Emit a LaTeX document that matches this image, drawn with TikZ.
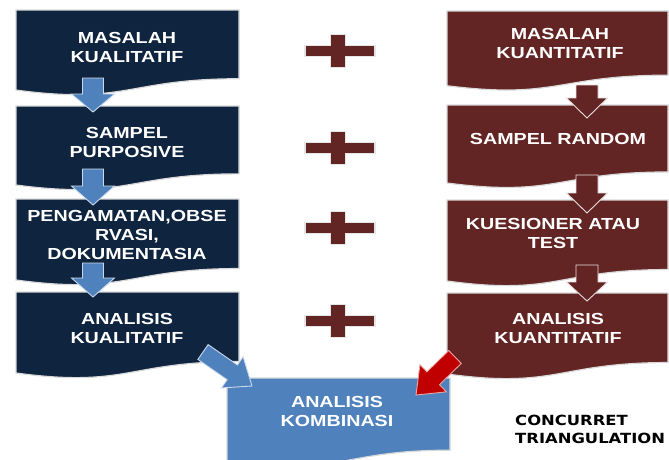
\documentclass[tikz,border=0pt]{standalone}
\usepackage{fontspec}
\setmainfont{Liberation Sans}
\newfontfamily\notefont{DejaVu Sans}
\usetikzlibrary{calc}
\definecolor{navy}{HTML}{0F243E}
\definecolor{maroon}{HTML}{632523}
\definecolor{lblue}{HTML}{4F81BD}
\definecolor{ared}{HTML}{C00000}

\newcommand\docbox[5]{%
 \pgfmathsetmacro\dya{#3+0.802*#4}%
 \pgfmathsetmacro\dyb{#3+1.108*#4}%
 \pgfmathsetmacro\dyc{#3+0.934*#4}%
 \pgfmathsetmacro\dxm{(#1+#2)/2}%
 \filldraw[boxstyle, fill=#5] (#1,#3) -- (#2,#3) -- (#2,\dya) .. controls (\dxm,\dya) and (\dxm,\dyb) .. (#1,\dyc) -- cycle;}

\newcommand\blockarrow[6]{%
 \coordinate (ba-h) at ($(#3)!#6!(#2)$);
 \filldraw[#1] ($(#2)!#4!90:(#3)$) -- ($(ba-h)!#4!90:(#3)$) -- ($(ba-h)!#5!90:(#3)$) -- (#3) -- ($(ba-h)!#5!-90:(#3)$) -- ($(ba-h)!#4!-90:(#3)$) -- ($(#2)!#4!-90:(#3)$) -- cycle;}

\newcommand\plussign[2]{%
 \filldraw[plusstyle] (#1-7.5,#2-16.5) -- (#1+7.5,#2-16.5) -- (#1+7.5,#2-5.5) -- (#1+37,#2-5.5) -- (#1+37,#2+5.5) -- (#1+7.5,#2+5.5) -- (#1+7.5,#2+16.5) -- (#1-7.5,#2+16.5) -- (#1-7.5,#2+5.5) -- (#1-33,#2+5.5) -- (#1-33,#2-5.5) -- (#1-7.5,#2-5.5) -- cycle;}

\begin{document}
\begin{tikzpicture}[x=1pt,y=-1pt,
  boxstyle/.style={draw=black!15, line width=1.2pt},
  plusstyle/.style={fill=maroon, draw=black!10, line width=1.5pt},
  bluearr/.style={fill=lblue, draw=white!70!lblue, line width=0.9pt},
  redarr/.style={fill=maroon, draw=white!85!maroon, line width=0.9pt},
  brightarr/.style={fill=ared, draw=white!65!ared, line width=0.9pt},
  txt/.style={text=white, font=\bfseries\fontsize{16}{19}\selectfont, align=center, xscale=1.23, inner sep=0pt},
  note/.style={text=black, font=\notefont\bfseries\fontsize{14}{18}\selectfont, align=left, xscale=1.17, inner sep=0pt, anchor=west}]
\useasboundingbox[fill=white] (0,0) rectangle (669,459);

% left column
\docbox{16}{239}{10}{85.7}{navy}
\docbox{16}{239}{106}{84.6}{navy}
\docbox{16}{239}{199}{86.7}{navy}
\docbox{16}{239}{292}{86.7}{navy}
% right column
\docbox{447}{668}{11}{80}{maroon}
\docbox{447}{668}{105}{83.5}{maroon}
\docbox{447}{668}{200}{86.7}{maroon}
\docbox{447}{668}{293}{86.7}{maroon}
% bottom box
\docbox{227}{450}{378}{90}{lblue}

% plus signs
\plussign{338}{51}
\plussign{338}{148}
\plussign{338}{228}
\plussign{338}{321}

% arrow end points
\coordinate (a1s) at (93,78);  \coordinate (a1e) at (93,112);
\coordinate (a2s) at (93,169); \coordinate (a2e) at (93,205);
\coordinate (a3s) at (93,263); \coordinate (a3e) at (93,297);
\coordinate (r1s) at (587,85);  \coordinate (r1e) at (587,118);
\coordinate (r2s) at (587,175); \coordinate (r2e) at (587,213);
\coordinate (r3s) at (587,265); \coordinate (r3e) at (587,301);
\coordinate (dbs) at (203,352); \coordinate (dbe) at (252,386);
\coordinate (drs) at (455,357); \coordinate (dre) at (416,395);

\blockarrow{bluearr}{a1s}{a1e}{10.5pt}{21.5pt}{18pt}
\blockarrow{bluearr}{a2s}{a2e}{10.5pt}{21.5pt}{19pt}
\blockarrow{bluearr}{a3s}{a3e}{10.5pt}{21.5pt}{19pt}
\blockarrow{redarr}{r1s}{r1e}{11pt}{20.5pt}{20pt}
\blockarrow{redarr}{r2s}{r2e}{11pt}{20.5pt}{20pt}
\blockarrow{redarr}{r3s}{r3e}{11pt}{20.5pt}{19pt}
\blockarrow{bluearr}{dbs}{dbe}{9pt}{19pt}{24pt}
\blockarrow{brightarr}{drs}{dre}{9pt}{19pt}{24pt}

% texts
\node[txt] (mk) at (127,47) {MASALAH\\KUALITATIF};
\node[txt] (sp) at (127,142) {SAMPEL\\PURPOSIVE};
\node[txt] (peng) at (127,235) {PENGAMATAN,OBSE\\RVASI,\\DOKUMENTASIA};
\node[txt] (ak) at (127,328) {ANALISIS\\KUALITATIF};
\node[txt] (mq) at (560,43) {MASALAH\\KUANTITATIF};
\node[txt] (sr) at (558,139) {SAMPEL RANDOM};
\node[txt] (kat) at (553,233) {KUESIONER ATAU\\TEST};
\node[txt] (aq) at (558,328) {ANALISIS\\KUANTITATIF};
\node[txt] (komb) at (337,411) {ANALISIS\\KOMBINASI};
\node[note] (conc) at (515,429) {CONCURRET\\TRIANGULATION};
\end{tikzpicture}
\end{document}
